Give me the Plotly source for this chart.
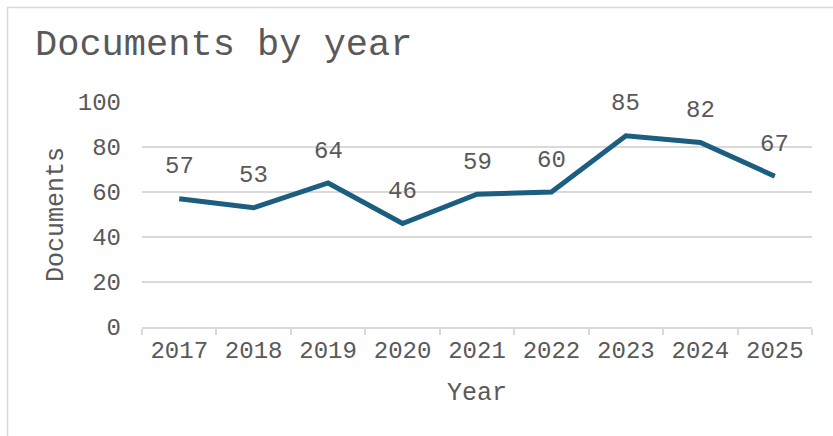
import plotly.graph_objects as go

# Documents published per year
years = ["2017", "2018", "2019", "2020", "2021", "2022", "2023", "2024", "2025"]
documents = [57, 53, 64, 46, 59, 60, 85, 82, 67]
y_ticks = [0, 20, 40, 60, 80, 100]

W, H = 833, 436
ML, MR, MT, MB = 142, 21, 102, 109
FONT = "Courier New, Liberation Mono, monospace"
TEXT = "#595959"
GRID = "#D9D9D9"
LINE = "#1B5E80"

fig = go.Figure()
fig.add_trace(go.Scatter(
    x=years, y=documents, mode="lines",
    line=dict(color=LINE, width=5),
    hoverinfo="x+y", showlegend=False,
))

# value labels above each point (category index used as x position)
for i, v in enumerate(documents):
    fig.add_annotation(x=i, y=v, xref="x", yref="y", text=str(v), showarrow=False,
                       yshift=32, font=dict(family=FONT, size=24, color=TEXT))

plot_w = W - ML - MR
plot_h = H - MT - MB
# thin frame around the chart area
fig.add_shape(type="rect", xref="paper", yref="paper",
              x0=(7.5 - ML) / plot_w, x1=(W + 20 - ML) / plot_w,
              y0=-(H + 20 - (H - MB)) / plot_h, y1=((H - MB) - 7.5) / plot_h,
              line=dict(color=GRID, width=1.5), fillcolor="rgba(0,0,0,0)", layer="below")

fig.update_layout(
    width=W, height=H,
    margin=dict(l=ML, r=MR, t=MT, b=MB),
    paper_bgcolor="white", plot_bgcolor="white",
    font=dict(family=FONT, color=TEXT, size=24),
    title=dict(text="Documents by year", xref="container", yref="container",
               x=35 / W, y=1 - 42 / H, xanchor="left", yanchor="middle",
               font=dict(family=FONT, size=37, color=TEXT)),
    xaxis=dict(
        type="category", range=[-0.5, len(years) - 0.5],
        tickson="boundaries", ticks="outside", ticklen=6, tickcolor=GRID, tickwidth=1.5,
        showline=True, linecolor=GRID, linewidth=1.5,
        showgrid=False, zeroline=False,
        tickfont=dict(family=FONT, size=24, color=TEXT),
        title=dict(text="Year", standoff=19, font=dict(family=FONT, size=25, color=TEXT)),
    ),
    yaxis=dict(
        range=[0, 100], tickvals=y_ticks, ticks="", showline=False,
        showgrid=True, gridcolor=GRID, gridwidth=1.5, zeroline=False,
        tickfont=dict(family=FONT, size=24, color=TEXT),
        ticklabelstandoff=20,
        title=dict(text="Documents", standoff=7, font=dict(family=FONT, size=25, color=TEXT)),
    ),
)

fig.write_html("out.html")
